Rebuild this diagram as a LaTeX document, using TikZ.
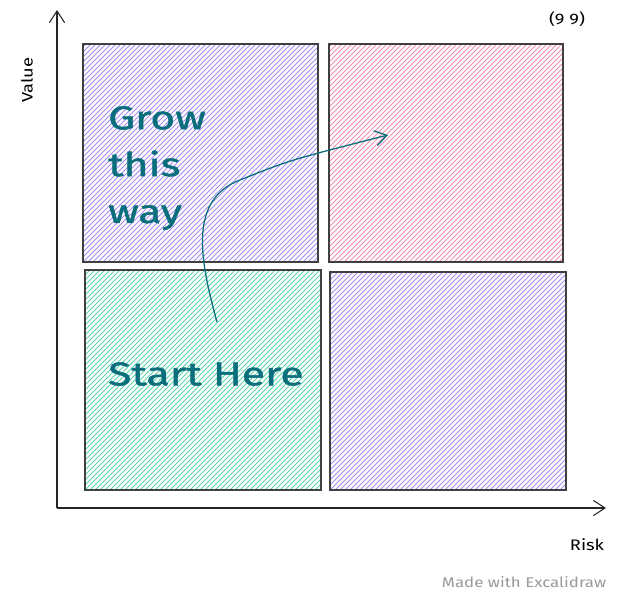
\documentclass[tikz,border=0pt]{standalone}
\usepackage{fontspec}
\setmainfont{Fira Sans}
\newfontfamily\handfont[FakeStretch=1.3, FakeBold=1.5]{Fira Sans}
\newfontfamily\labelfont[FakeStretch=1.2]{Fira Sans}
\usepackage{xcolor}
\usepackage{tikz}
\usetikzlibrary{arrows.meta, positioning}

\definecolor{violetHatch}{HTML}{A58AF5}
\definecolor{pinkHatch}{HTML}{F28DB0}
\definecolor{greenHatch}{HTML}{5CD5AC}
\definecolor{tealInk}{HTML}{0B6E7C}

\tikzset{
    quadrant/.style={draw=black!75, line width=0.9pt},
    axis/.style={draw=black!85, line width=0.9pt, -{Straight Barb[length=10pt, width=13pt]}},
    hand/.style={text=tealInk, font=\handfont\fontsize{28}{34}\selectfont, align=left, inner sep=0pt},
    tag/.style={font=\labelfont\fontsize{13}{15}\selectfont},
}

% hatched box: colour, left, top, right, bottom
\newcommand{\hatchbox}[5]{%
    \begin{scope}
        \clip (#2,#3) rectangle (#4,#5);
        \foreach \off in {-230,-225,...,240}
            \draw[#1, line width=0.7pt] (#2+\off,#5) -- ++(230,-230);
    \end{scope}
    \draw[quadrant] (#2,#3) rectangle (#4,#5);
}

\begin{document}
\begin{tikzpicture}[x=0.03cm, y=-0.03cm]
                    \useasboundingbox (0,0) rectangle (617,595);
                    % Quadrants
                    \hatchbox{violetHatch}{83}{44}{318}{262}
                    \hatchbox{pinkHatch}{329}{44}{563}{262}
                    \hatchbox{greenHatch}{85}{270}{321}{490}
                    \hatchbox{violetHatch}{330}{272}{566}{490}
                    % Axes
                    \coordinate (origin) at (57,508);
                    \coordinate (valueEnd) at (57,10);
                    \coordinate (riskEnd) at (606,508);
                    \draw[axis] (origin) -- (valueEnd);
                    \draw[axis] (origin) -- (riskEnd);
                    % Axis labels
                    \node[tag, rotate=90] (value) at (27,80) {Value};
                    \node[tag] (risk) at (587,545) {Risk};
                    \node[tag] (corner) at (567,19) {(9 9)};
                    % Quadrant texts
                    \node[hand, anchor=north west] (grow) at (108,106) {Grow\\[6pt]this\\[6pt]way};
                    \node[hand, anchor=west] (start) at (108,374) {Start Here};
                    % Growth path
                    \coordinate (pathStart) at (217,322);
                    \coordinate (pathEnd) at (388,135);
                    \draw[tealInk, line width=1.1pt, -{Straight Barb[length=10pt, width=13pt]}]
                        (pathStart) .. controls (200,260) and (188,200) .. (240,180)
                        .. controls (290,160) .. (pathEnd);
                    % Footer
                    \node[text=black!40, font=\labelfont\fontsize{12}{14}\selectfont] (footer) at (524,582) {Made with Excalidraw};
\end{tikzpicture}
\end{document}
